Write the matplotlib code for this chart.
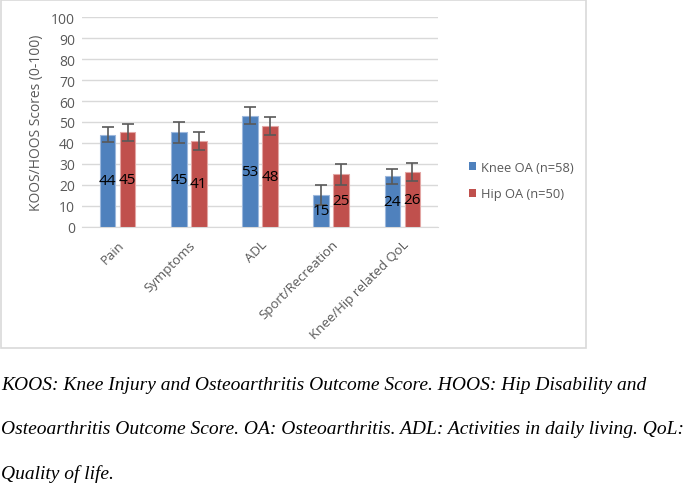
import matplotlib
matplotlib.use("Agg")
import matplotlib.pyplot as plt
import numpy as np
from matplotlib.patches import Rectangle

categories = ["Pain", "Symptoms", "ADL", "Sport/Recreation", "Knee/Hip related QoL"]
knee_vals = [44, 45, 53, 15, 24]
hip_vals = [45, 41, 48, 25, 26]
knee_err = [3.7, 5.0, 4.0, 4.8, 3.7]
hip_err = [4.0, 4.4, 4.4, 5.0, 4.3]
series_names = ["Knee OA (n=58)", "Hip OA (n=50)"]
yticks = list(range(0, 101, 10))
caption_lines = [
    "KOOS: Knee Injury and Osteoarthritis Outcome Score. HOOS: Hip Disability and",
    "Osteoarthritis Outcome Score. OA: Osteoarthritis. ADL: Activities in daily living. QoL:",
    "Quality of life.",
]

W, H = 685, 485
fig = plt.figure(figsize=(W / 100, H / 100), dpi=100)
fig.patch.set_facecolor("white")

# chart border
fig.add_artist(Rectangle((1 / W, 1 - 349 / H), 585 / W, 348 / H, transform=fig.transFigure,
                         fill=False, edgecolor="#d9d9d9", linewidth=1.2))

ax = fig.add_axes([82 / W, 1 - 227.7 / H, 356 / W, (227.7 - 18.3) / H])
sans = ["Open Sans", "DejaVu Sans"]
gray = "#595959"

x = np.arange(len(categories))
bw = 0.22
off = 0.14
blue = "#4F81BD"
red = "#C0504D"
b1 = ax.bar(x - off, knee_vals, bw, color=blue, edgecolor="#9DB8DD", linewidth=0.8,
            label=series_names[0], zorder=3)
b2 = ax.bar(x + off, hip_vals, bw, color=red, edgecolor="#E3A6A4", linewidth=0.8,
            label=series_names[1], zorder=3)
ax.errorbar(x - off, knee_vals, yerr=knee_err, fmt="none", ecolor=gray, elinewidth=1.2,
            capsize=4.3, capthick=1.2, zorder=4)
ax.errorbar(x + off, hip_vals, yerr=hip_err, fmt="none", ecolor=gray, elinewidth=1.2,
            capsize=4.3, capthick=1.2, zorder=4)

for xi, v in zip(x - off, knee_vals):
    ax.text(xi, v / 2, str(v), ha="center", va="center", fontsize=11, color="black",
            family=sans, zorder=5)
for xi, v in zip(x + off, hip_vals):
    ax.text(xi, v / 2, str(v), ha="center", va="center", fontsize=11, color="black",
            family=sans, zorder=5)

ax.set_xlim(-0.5, len(categories) - 0.5)
ax.set_ylim(0, 100)
ax.set_yticks(yticks)
ax.set_yticklabels([str(t) for t in yticks], family=sans, fontsize=10, color=gray)
ax.yaxis.grid(True, color="#d9d9d9", linewidth=1, zorder=0)
ax.set_axisbelow(True)
for s in ["top", "right", "left"]:
    ax.spines[s].set_visible(False)
ax.spines["bottom"].set_color("#d9d9d9")
ax.tick_params(axis="both", length=0, pad=5)
ax.set_xticks(x)
ax.set_xticklabels(categories, rotation=45, ha="right", rotation_mode="anchor",
                   family=sans, fontsize=9.5, color=gray)
ax.tick_params(axis="x", pad=8)
ax.set_ylabel("KOOS/HOOS Scores (0-100)", family=sans, fontsize=10, color=gray, labelpad=5)

leg = fig.legend(handles=[b1, b2], labels=series_names, loc="upper left",
                 bbox_to_anchor=(457 / W, 1 - 150 / H), frameon=False,
                 prop={"family": sans, "size": 9.3}, handlelength=0.6, handleheight=0.6,
                 handletextpad=0.35, labelspacing=1.05, labelcolor=gray)
for h in leg.legend_handles:
    h.set_edgecolor("none")

ys = [386, 430, 474]
for line, yy in zip(caption_lines, ys):
    fig.text(1 / W, 1 - yy / H, line, ha="left", va="center", family=["Liberation Serif"],
             style="italic", fontsize=14, color="black")

fig.savefig("out.png", dpi=100, facecolor="white")
